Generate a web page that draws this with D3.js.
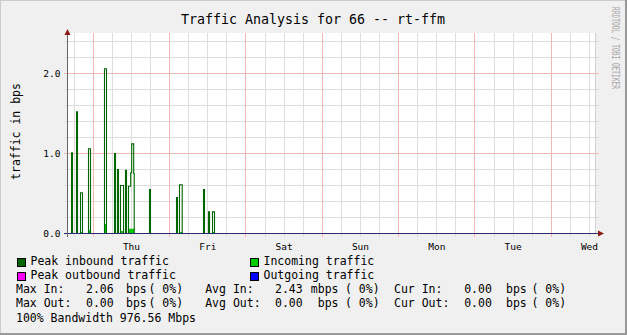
<!DOCTYPE html>
<html>
<head>
<meta charset="utf-8">
<script src="https://cdn.jsdelivr.net/npm/d3@7"></script>
<style>
  body { margin: 0; background: #f0f0f0; }
  svg text { font-family: "DejaVu Sans Mono", monospace; fill: #000; }
</style>
</head>
<body>
<div id="chart"></div>
<script>
// time is in hours, counted from Thursday 00:00
const dayLabels = ["Thu", "Fri", "Sat", "Sun", "Mon", "Tue", "Wed"];
const yTickValues = [0, 1, 2];

// peak inbound traffic: [from, to, value in bps]
const peakIn = [
    [-6.85, -6.54, 1.01], [-5.28, -4.97, 1.52], [-4.02, -3.40, 0.51], [-1.51, -0.88, 1.06],
    [3.52, 4.15, 2.06], [6.67, 6.98, 1.00], [7.61, 7.92, 0.80], [8.55, 9.50, 0.60],
    [10.12, 10.44, 0.79], [11.07, 11.76, 0.59], [11.76, 12.07, 0.76], [12.07, 12.70, 1.12],
    [12.70, 12.86, 0.75], [17.67, 17.98, 0.55], [26.16, 26.47, 0.45], [27.10, 27.95, 0.61],
    [34.65, 34.96, 0.55], [36.22, 36.54, 0.27], [37.48, 38.11, 0.27]
];

// incoming traffic (average): [from, to, value in bps]
const incoming = [
    [-6.85, -6.54, 0.04], [-5.28, -4.97, 0.05], [-4.02, -3.40, 0.02], [-1.51, -0.88, 0.04],
    [3.52, 4.15, 0.12], [6.67, 6.98, 0.09], [7.61, 7.92, 0.03], [8.55, 9.50, 0.03],
    [10.12, 10.44, 0.03], [11.07, 12.86, 0.06], [17.67, 17.98, 0.02], [26.16, 26.47, 0.02],
    [27.10, 27.95, 0.02], [34.65, 34.96, 0.02], [36.22, 36.54, 0.01], [37.48, 38.11, 0.02]
];

// outgoing traffic and peak outbound are flat zero
const outgoing = [];
const peakOut = [];

const legendItems = [
    { label: "Peak inbound traffic", color: "#006600" },
    { label: "Incoming traffic", color: "#00cc00" },
    { label: "Peak outbound traffic", color: "#ff00ff" },
    { label: "Outgoing traffic", color: "#0000ff" }
];

const statsRows = [
    ["Max In:", "2.06", "bps", "( 0%)", "Avg In:", "2.43", "mbps", "( 0%)", "Cur In:", "0.00", "bps", "( 0%)"],
    ["Max Out:", "0.00", "bps", "( 0%)", "Avg Out:", "0.00", "bps", "( 0%)", "Cur Out:", "0.00", "bps", "( 0%)"]
];
const bandwidthText = "100% Bandwidth 976.56 Mbps";
const title = "Traffic Analysis for 66 -- rt-ffm";
const yTitle = "traffic in bps";
const watermark = "RRDTOOL / TOBI OETIKER";

const width = 627;
const height = 335;
const plot = { left: 67, right: 596, top: 33, bottom: 233.5 };

const svg = d3.select("#chart")
    .append("svg")
    .attr("width", width)
    .attr("height", height);

// background and shaded border
svg.append("rect").attr("width", width).attr("height", height).attr("fill", "#f0f0f0");
svg.append("path").attr("d", `M0,${height} V0 H${width}`)
    .attr("fill", "none").attr("stroke", "#cbcbcb").attr("stroke-width", 2);
svg.append("path").attr("d", `M0,${height - 1} H${width - 1} V0`)
    .attr("fill", "none").attr("stroke", "#999999").attr("stroke-width", 2);

const xScale = d3.scaleLinear()
    .domain([-8.27, 158.05])
    .range([plot.left, plot.right]);

const yScale = d3.scaleLinear()
    .domain([0, 2.5])
    .range([plot.bottom, plot.bottom - 200]);

svg.append("rect")
    .attr("x", plot.left).attr("y", plot.top)
    .attr("width", plot.right - plot.left).attr("height", 201)
    .attr("fill", "#ffffff");

const crisp = v => Math.floor(v) + 0.5;

// grid lines
const grid = svg.append("g").attr("shape-rendering", "crispEdges");
const minorX = d3.range(-6, 158, 6).filter(h => h % 24 !== 0);
const majorX = d3.range(0, 158, 24);
const minorY = d3.range(0.2, 2.5, 0.2).filter(v => Math.abs(v - Math.round(v)) > 0.01);
const majorY = [1, 2];

grid.selectAll(".minor-x").data(minorX).enter().append("line")
    .attr("x1", d => crisp(xScale(d))).attr("x2", d => crisp(xScale(d)))
    .attr("y1", plot.top).attr("y2", plot.bottom + 3)
    .attr("stroke", "#dedede");
grid.selectAll(".minor-y").data(minorY).enter().append("line")
    .attr("x1", plot.left - 2).attr("x2", plot.right + 3)
    .attr("y1", d => crisp(yScale(d))).attr("y2", d => crisp(yScale(d)))
    .attr("stroke", "#dedede");
grid.selectAll(".major-x").data(majorX).enter().append("line")
    .attr("x1", d => crisp(xScale(d))).attr("x2", d => crisp(xScale(d)))
    .attr("y1", plot.top).attr("y2", plot.bottom + 3)
    .attr("stroke", "#f2b8b8");
grid.selectAll(".major-y").data(majorY).enter().append("line")
    .attr("x1", plot.left - 3).attr("x2", plot.right + 3)
    .attr("y1", d => crisp(yScale(d))).attr("y2", d => crisp(yScale(d)))
    .attr("stroke", "#f2b8b8");
grid.append("line")
    .attr("x1", plot.right - 0.5).attr("x2", plot.right - 0.5)
    .attr("y1", plot.top).attr("y2", plot.bottom)
    .attr("stroke", "#d0d0d0");

// step series built from segments
const [t0, t1] = xScale.domain();
function stepPoints(segs) {
    const pts = [{ t: t0, v: 0 }];
    segs.forEach((s, i) => {
        pts.push({ t: s[0], v: s[2] });
        const next = segs[i + 1];
        if (!next || next[0] > s[1]) pts.push({ t: s[1], v: 0 });
    });
    pts.push({ t: t1, v: 0 });
    return pts;
}

const area = d3.area()
    .x(d => xScale(d.t))
    .y0(yScale(0))
    .y1(d => yScale(d.v))
    .curve(d3.curveStepAfter);
const line = d3.line()
    .x(d => xScale(d.t))
    .y(d => yScale(d.v))
    .curve(d3.curveStepAfter);

svg.append("path").datum(stepPoints(incoming))
    .attr("d", area).attr("fill", "#00cc00");
svg.append("path").datum(stepPoints(peakIn))
    .attr("d", line).attr("fill", "none").attr("stroke", "#006600").attr("stroke-width", 1.1);
svg.append("path").datum(stepPoints(outgoing))
    .attr("d", area).attr("fill", "#0000ff");
svg.append("path").datum(stepPoints(peakOut))
    .attr("d", line).attr("fill", "none").attr("stroke", "#ff00ff").attr("stroke-width", 1);

// axes
const axisY = yScale(0);
svg.append("line")
    .attr("x1", plot.left - 3).attr("x2", plot.right + 4)
    .attr("y1", axisY).attr("y2", axisY)
    .attr("stroke", "#2b2a6a").attr("shape-rendering", "crispEdges");
svg.append("line")
    .attr("x1", crisp(plot.left)).attr("x2", crisp(plot.left))
    .attr("y1", plot.top - 2).attr("y2", plot.bottom + 3)
    .attr("stroke", "#666").attr("shape-rendering", "crispEdges");
svg.append("path")
    .attr("d", `M${plot.left + 0.5},${plot.top - 4} l-3,6 h6 z`)
    .attr("fill", "#8b1a1a");
svg.append("path")
    .attr("d", `M${plot.right + 8},${axisY} l-6,-3 v6 z`)
    .attr("fill", "#8b1a1a");

// tick labels
svg.selectAll(".ylab").data(yTickValues).enter().append("text")
    .attr("x", plot.left - 6.5)
    .attr("y", d => yScale(d) + 3)
    .attr("text-anchor", "end")
    .attr("font-size", "9.5px")
    .text(d => d3.format(".1f")(d));

svg.selectAll(".xlab").data(dayLabels).enter().append("text")
    .attr("x", (d, i) => xScale(i * 24 + 12))
    .attr("y", 250)
    .attr("text-anchor", "middle")
    .attr("font-size", "9.5px")
    .text(d => d);

// titles
svg.append("text")
    .attr("x", 313).attr("y", 23.5)
    .attr("text-anchor", "middle")
    .attr("font-size", "13.3px")
    .text(title);

svg.append("text")
    .attr("transform", "translate(20,131.5) rotate(-90)")
    .attr("text-anchor", "middle")
    .attr("font-size", "11.5px")
    .text(yTitle);

svg.append("text")
    .attr("transform", "translate(612,7) rotate(90)")
    .attr("font-size", "10px")
    .attr("textLength", 82)
    .attr("lengthAdjust", "spacingAndGlyphs")
    .style("fill", "#a8a8a8")
    .text(watermark);

// legend
const legend = svg.selectAll(".legend")
    .data(legendItems)
    .enter().append("g")
    .attr("transform", (d, i) => `translate(${i % 2 === 0 ? 17 : 250}, ${258 + Math.floor(i / 2) * 14})`);
legend.append("rect")
    .attr("width", 8).attr("height", 8)
    .attr("fill", d => d.color)
    .attr("stroke", "#000").attr("stroke-width", 1)
    .attr("shape-rendering", "crispEdges");
legend.append("text")
    .attr("x", 13.5).attr("y", 7)
    .attr("font-size", "11.5px")
    .text(d => d.label);

// statistics rows, token by token
const colX = [16, 86, 126, 148.5, 205.2, 275, 338.5, 345, 394, 464.2, 506, 531.5];
const colAnchor = colX.map((x, i) => i === 6 ? "end" : "start");
statsRows.forEach((row, r) => {
    svg.selectAll(`.stat-${r}`)
        .data(row)
        .enter().append("text")
        .attr("x", (d, i) => colX[i])
        .attr("y", 293 + r * 14)
        .attr("text-anchor", (d, i) => colAnchor[i])
        .attr("font-size", "11.5px")
        .style("white-space", "pre")
        .text(d => d);
});

svg.append("text")
    .attr("x", 16).attr("y", 321.5)
    .attr("font-size", "11.5px")
    .text(bandwidthText);
</script>
</body>
</html>
